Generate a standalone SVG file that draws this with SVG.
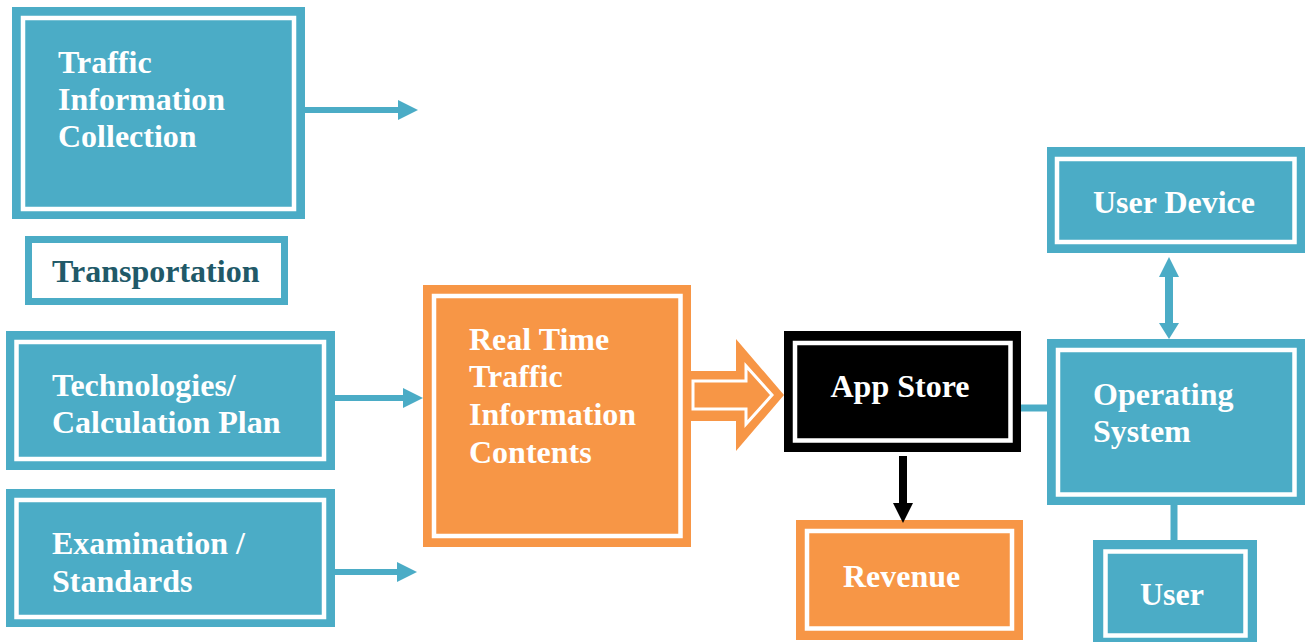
<svg xmlns="http://www.w3.org/2000/svg" width="1306" height="643" viewBox="0 0 1306 643">
<style>
.teal{fill:#4BACC6}
.orange{fill:#F79646}
.black{fill:#000}
.inner{fill:none;stroke:#fff;stroke-width:4.5}
.lbl{font-family:"Liberation Serif","Times New Roman",serif;font-weight:bold;font-size:32px;fill:#fff}
.dark{fill:#215968}
.tline{stroke:#4BACC6;stroke-width:6;fill:none}
.thead{fill:#4BACC6}
</style>
<rect width="1306" height="643" fill="#fff"/>
<g id="traffic-info-collection">
<rect class="teal" x="12" y="7" width="293" height="212"/>
<rect class="inner" x="23" y="18" width="271" height="191"/>
<text class="lbl" x="58" y="73">Traffic</text>
<text class="lbl" x="58" y="110">Information</text>
<text class="lbl" x="58" y="147">Collection</text>
</g>
<g id="transportation">
<rect x="28.5" y="239.5" width="256" height="62" fill="#fff" stroke="#4BACC6" stroke-width="7"/>
<text class="lbl dark" x="52" y="282">Transportation</text>
</g>
<g id="technologies">
<rect class="teal" x="6" y="331" width="329" height="139"/>
<rect class="inner" x="16.5" y="342" width="307.5" height="117"/>
<text class="lbl" x="52" y="396">Technologies/</text>
<text class="lbl" x="52" y="433">Calculation Plan</text>
</g>
<g id="examination">
<rect class="teal" x="6" y="489" width="329" height="138"/>
<rect class="inner" x="16.5" y="500" width="307.5" height="117"/>
<text class="lbl" x="52" y="554">Examination /</text>
<text class="lbl" x="52" y="592">Standards</text>
</g>
<g id="real-time-contents">
<rect class="orange" x="423" y="285" width="268" height="262"/>
<rect class="inner" x="434" y="296" width="246.5" height="240"/>
<text class="lbl" x="469" y="350">Real Time</text>
<text class="lbl" x="469" y="387">Traffic</text>
<text class="lbl" x="469" y="425">Information</text>
<text class="lbl" x="469" y="463">Contents</text>
</g>
<g id="app-store">
<rect class="black" x="784" y="331" width="237" height="121"/>
<rect class="inner" x="795" y="343" width="215.5" height="97.5"/>
<text class="lbl" x="900" y="397" text-anchor="middle">App Store</text>
</g>
<g id="revenue">
<rect class="orange" x="796" y="520" width="227" height="120"/>
<rect class="inner" x="807" y="531" width="205" height="97.5"/>
<text class="lbl" x="843" y="587">Revenue</text>
</g>
<g id="user-device">
<rect class="teal" x="1047" y="147" width="258" height="106"/>
<rect class="inner" x="1057" y="159" width="237.5" height="83"/>
<text class="lbl" x="1093" y="213">User Device</text>
</g>
<g id="operating-system">
<rect class="teal" x="1047" y="339" width="258" height="166"/>
<rect class="inner" x="1058" y="350" width="236.5" height="144.5"/>
<text class="lbl" x="1093" y="405">Operating</text>
<text class="lbl" x="1093" y="442">System</text>
</g>
<g id="user">
<rect class="teal" x="1093" y="540" width="164" height="102"/>
<rect class="inner" x="1105.5" y="551.5" width="140" height="84"/>
<text class="lbl" x="1140" y="605">User</text>
</g>
<g id="connectors">
<line class="tline" x1="305" y1="110" x2="400" y2="110"/>
<polygon class="thead" points="398,100 418,110 398,120"/>
<line class="tline" x1="335" y1="398" x2="405" y2="398"/>
<polygon class="thead" points="403,388 423,398 403,408"/>
<line class="tline" x1="335" y1="572" x2="399" y2="572"/>
<polygon class="thead" points="397,562 417,572 397,582"/>
<polygon class="orange" points="690,371 736,371 736,339 784,395 736,451 736,421 690,421"/>
<polygon points="693,381 746,381 746,366 772,395 746,424 746,409 693,409" fill="#F79646" stroke="#fff" stroke-width="3"/>
<line x1="903" y1="456" x2="903" y2="505" stroke="#000" stroke-width="8"/>
<polygon fill="#000" points="893,503 913,503 903,523"/>
<line x1="1021" y1="408" x2="1047" y2="408" stroke="#4BACC6" stroke-width="7"/>
<line x1="1169" y1="275" x2="1169" y2="325" stroke="#4BACC6" stroke-width="8"/>
<polygon class="thead" points="1159,277 1169,257 1179,277"/>
<polygon class="thead" points="1159,323 1169,339 1179,323"/>
<line x1="1174" y1="505" x2="1174" y2="540" stroke="#4BACC6" stroke-width="7"/>
</g>
</svg>
